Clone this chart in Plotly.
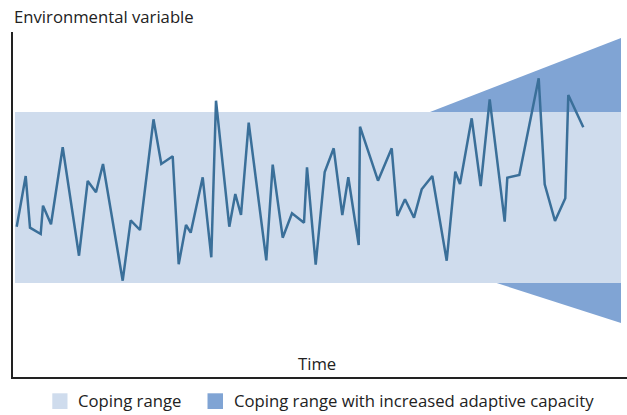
import plotly.graph_objects as go

# time series (x = time, y = environmental variable)
time = [3.7, 12.7, 17, 27.7, 30, 38, 49.7, 66, 74.7, 83, 90, 109.7, 117.7, 127,
        140.5, 148.3, 159.7, 165.7, 173, 177.7, 189.7, 198.3, 203, 216.3, 222.3,
        228, 235.7, 253.3, 259.7, 269.7, 279, 291, 294, 302.7, 311.7, 320.7,
        329.3, 335.3, 345.7, 347, 365, 378.7, 384.3, 392, 401, 408.7, 419.3,
        433.7, 442.3, 447, 458.7, 467.7, 476.7, 491.7, 494.3, 506.3, 525.7,
        531.7, 542, 552.3, 555.3, 570.3]
value = [150.3, 201, 149.3, 143, 171.3, 152.7, 229.7, 121.3, 196, 184.7, 213,
         96.3, 156.7, 147, 257.7, 213, 220.7, 112.7, 152, 144.3, 199.7, 119.7,
         276.3, 150.3, 183, 162, 254.3, 116.7, 212.3, 139.3, 163.7, 154.3,
         209.7, 112.3, 205, 228.7, 162, 199.7, 132, 250.3, 196.3, 228.7, 161,
         177.7, 159.3, 187.7, 201, 116.3, 205.3, 193, 258.7, 191, 277.7, 155.3,
         199.3, 202, 298.7, 192.7, 156, 178.7, 282, 249.7]

# coping range band
band_x = [2, 608, 608, 2, 2]
band_y = [94, 94, 265, 265, 94]

# widened coping range (increased adaptive capacity)
upper_x = [417, 608, 608, 417]
upper_y = [265, 339, 265, 265]
lower_x = [483.7, 608, 608, 483.7]
lower_y = [94, 54, 94, 94]

light = '#cfdced'
dark = '#80a4d4'
line_color = '#3a6f99'
text_color = '#222'
font = 'Open Sans'
fsize = 16.7

fig = go.Figure()
fig.add_trace(go.Scatter(x=band_x, y=band_y, fill='toself', fillcolor=light,
                         mode='none', hoverinfo='skip', showlegend=False))
for xs, ys in [(upper_x, upper_y), (lower_x, lower_y)]:
    fig.add_trace(go.Scatter(x=xs, y=ys, fill='toself', fillcolor=dark,
                             mode='none', hoverinfo='skip', showlegend=False))
fig.add_trace(go.Scatter(x=time, y=value, mode='lines',
                         line=dict(color=line_color, width=2.5),
                         showlegend=False))


def px_x(p):
    # page pixel -> paper x
    return (p - 13) / 614


def px_y(p):
    # page pixel -> paper y
    return (377 - p) / 345


annotations = [
    dict(text='Environmental variable', xref='paper', yref='paper', x=px_x(12), y=1,
         xanchor='left', yanchor='middle', yshift=16, showarrow=False),
    dict(text='Time', xref='paper', yref='y', x=px_x(316.5), y=14,
         xanchor='center', yanchor='middle', showarrow=False),
    dict(text='Coping range', xref='paper', yref='paper', x=px_x(76),
         y=px_y(400.5), xanchor='left', yanchor='middle', showarrow=False),
    dict(text='Coping range with increased adaptive capacity', xref='paper',
         yref='paper', x=px_x(232), y=px_y(400.5), xanchor='left',
         yanchor='middle', showarrow=False),
]

shapes = [
    dict(type='rect', xref='paper', yref='paper', x0=px_x(52.3), x1=px_x(67.5),
         y0=px_y(393.3), y1=px_y(409), fillcolor=light, line_width=0),
    dict(type='rect', xref='paper', yref='paper', x0=px_x(207.5), x1=px_x(223),
         y0=px_y(393.3), y1=px_y(409), fillcolor=dark, line_width=0),
]

fig.update_layout(
    width=627, height=415,
    margin=dict(l=13, r=0, t=32, b=38),
    plot_bgcolor='white', paper_bgcolor='white',
    font=dict(family=font, size=fsize, color=text_color),
    annotations=annotations, shapes=shapes,
    xaxis=dict(range=[0, 614], showgrid=False, zeroline=False, showticklabels=False,
               ticks='', showline=True, linecolor='#222', linewidth=1.5),
    yaxis=dict(range=[0, 345], showgrid=False, zeroline=False, showticklabels=False,
               ticks='', showline=True, linecolor='#222', linewidth=1.5),
)

fig.write_html('out.html', config={'displayModeBar': False},
               post_script="document.body.style.margin='0';")
